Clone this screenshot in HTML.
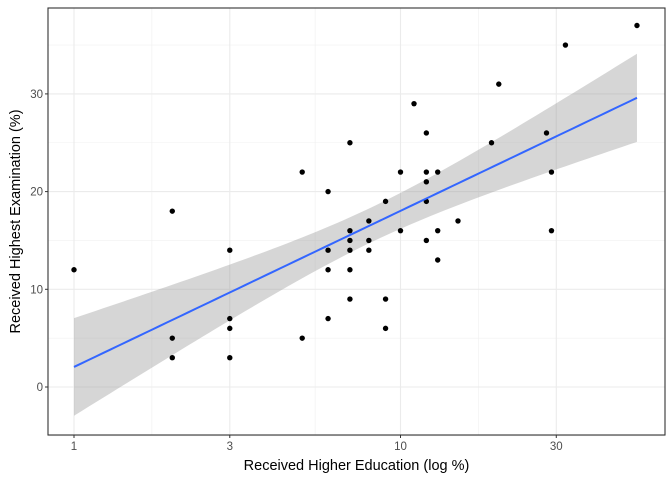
<!DOCTYPE html>
<html><head><meta charset="utf-8"><style>
body{margin:0;background:#fff}
svg{display:block;font-family:"Liberation Sans",Arial,sans-serif}
</style></head><body>
<svg id="c" width="672" height="480"></svg>
<script>
const education=[1,2,2,2,3,3,3,3,5,5,6,6,6,6,7,7,7,7,7,7,8,8,8,9,9,9,10,10,11,12,12,12,12,12,13,13,13,15,19,20,28,29,29,32,53];
const examination=[12,18,5,3,14,7,6,3,22,5,20,14,12,7,25,16,15,14,12,9,17,15,14,19,9,6,22,16,29,26,22,21,19,15,22,16,13,17,25,31,26,22,16,35,37];
const xTicks=[1,3,10,30];
const yTicks=[0,10,20,30];
const yMinor=[-5,5,15,25,35];
const L=48,R=665,T=8,B=435;
const X=v=>74+326.5*Math.log10(v);
const Y=v=>387-9.77*v;
const svg=document.getElementById('c');
const NS='http://www.w3.org/2000/svg';
function mk(t,a,p){const e=document.createElementNS(NS,t);for(const k in a)e.setAttribute(k,a[k]);(p||svg).appendChild(e);return e;}
const grid=mk('g',{});


yMinor.forEach(v=>mk('line',{x1:L,x2:R,y1:Y(v),y2:Y(v),stroke:'#f0f0f0','stroke-width':0.6},grid));
for(let i=0;i<xTicks.length-1;i++){const m=Math.sqrt(xTicks[i]*xTicks[i+1]);mk('line',{x1:X(m),x2:X(m),y1:T,y2:B,stroke:'#f0f0f0','stroke-width':0.6},grid);}
yTicks.forEach(v=>mk('line',{x1:L,x2:R,y1:Y(v),y2:Y(v),stroke:'#ebebeb','stroke-width':1.1},grid));
xTicks.forEach(v=>mk('line',{x1:X(v),x2:X(v),y1:T,y2:B,stroke:'#ebebeb','stroke-width':1.1},grid));
const n=education.length;const lx=education.map(v=>Math.log10(v));
const mx=lx.reduce((a,b)=>a+b)/n,my=examination.reduce((a,b)=>a+b)/n;
let sxx=0,sxy=0;lx.forEach((v,i)=>{sxx+=(v-mx)**2;sxy+=(v-mx)*(examination[i]-my);});
const b1=sxy/sxx,b0=my-b1*mx;
let sse=0;lx.forEach((v,i)=>{sse+=(examination[i]-b0-b1*v)**2;});
const s=Math.sqrt(sse/(n-2)),tq=2.017;
const lo=Math.min(...lx),hi=Math.max(...lx);
let up=[],dn=[],ln=[];
for(let k=0;k<80;k++){const u=lo+(hi-lo)*k/79;const f=b0+b1*u;const se=s*Math.sqrt(1/n+(u-mx)**2/sxx);
const px=74+326.5*u;up.push(px+','+Y(f+tq*se));dn.unshift(px+','+Y(f-tq*se));ln.push(px+','+Y(f));}
const band=mk('polygon',{points:up.concat(dn).join(' '),fill:'#999',opacity:0.4});


const pts=mk('g',{});


education.forEach((v,i)=>{const c=mk('circle',{cx:X(v),cy:Y(examination[i]),r:2.7,fill:'#000'},pts);

});
const line=mk('polyline',{points:ln.join(' '),fill:'none',stroke:'#3366FF','stroke-width':2});


const fr=mk('rect',{x:L,y:T,width:R-L,height:B-T,fill:'none',stroke:'#333','stroke-width':1.1});


yTicks.forEach(v=>{mk('line',{x1:L-3,x2:L,y1:Y(v),y2:Y(v),stroke:'#333'});
const t=mk('text',{x:L-5,y:Y(v)+4,'text-anchor':'end','font-size':11.5,fill:'#4d4d4d'});t.textContent=v;

});
xTicks.forEach(v=>{mk('line',{x1:X(v),x2:X(v),y1:B,y2:B+3,stroke:'#333'});
const t=mk('text',{x:X(v),y:B+15,'text-anchor':'middle','font-size':11.5,fill:'#4d4d4d'});t.textContent=v;

});
const xt=mk('text',{x:(L+R)/2,y:470,'text-anchor':'middle','font-size':14.5,fill:'#000'});xt.textContent='Received Higher Education (log %)';


const yt=mk('text',{x:0,y:0,'text-anchor':'middle','font-size':14.5,fill:'#000',transform:`translate(20,${(T+B)/2}) rotate(-90)`});yt.textContent='Received Highest Examination (%)';


</script>
</body></html>
